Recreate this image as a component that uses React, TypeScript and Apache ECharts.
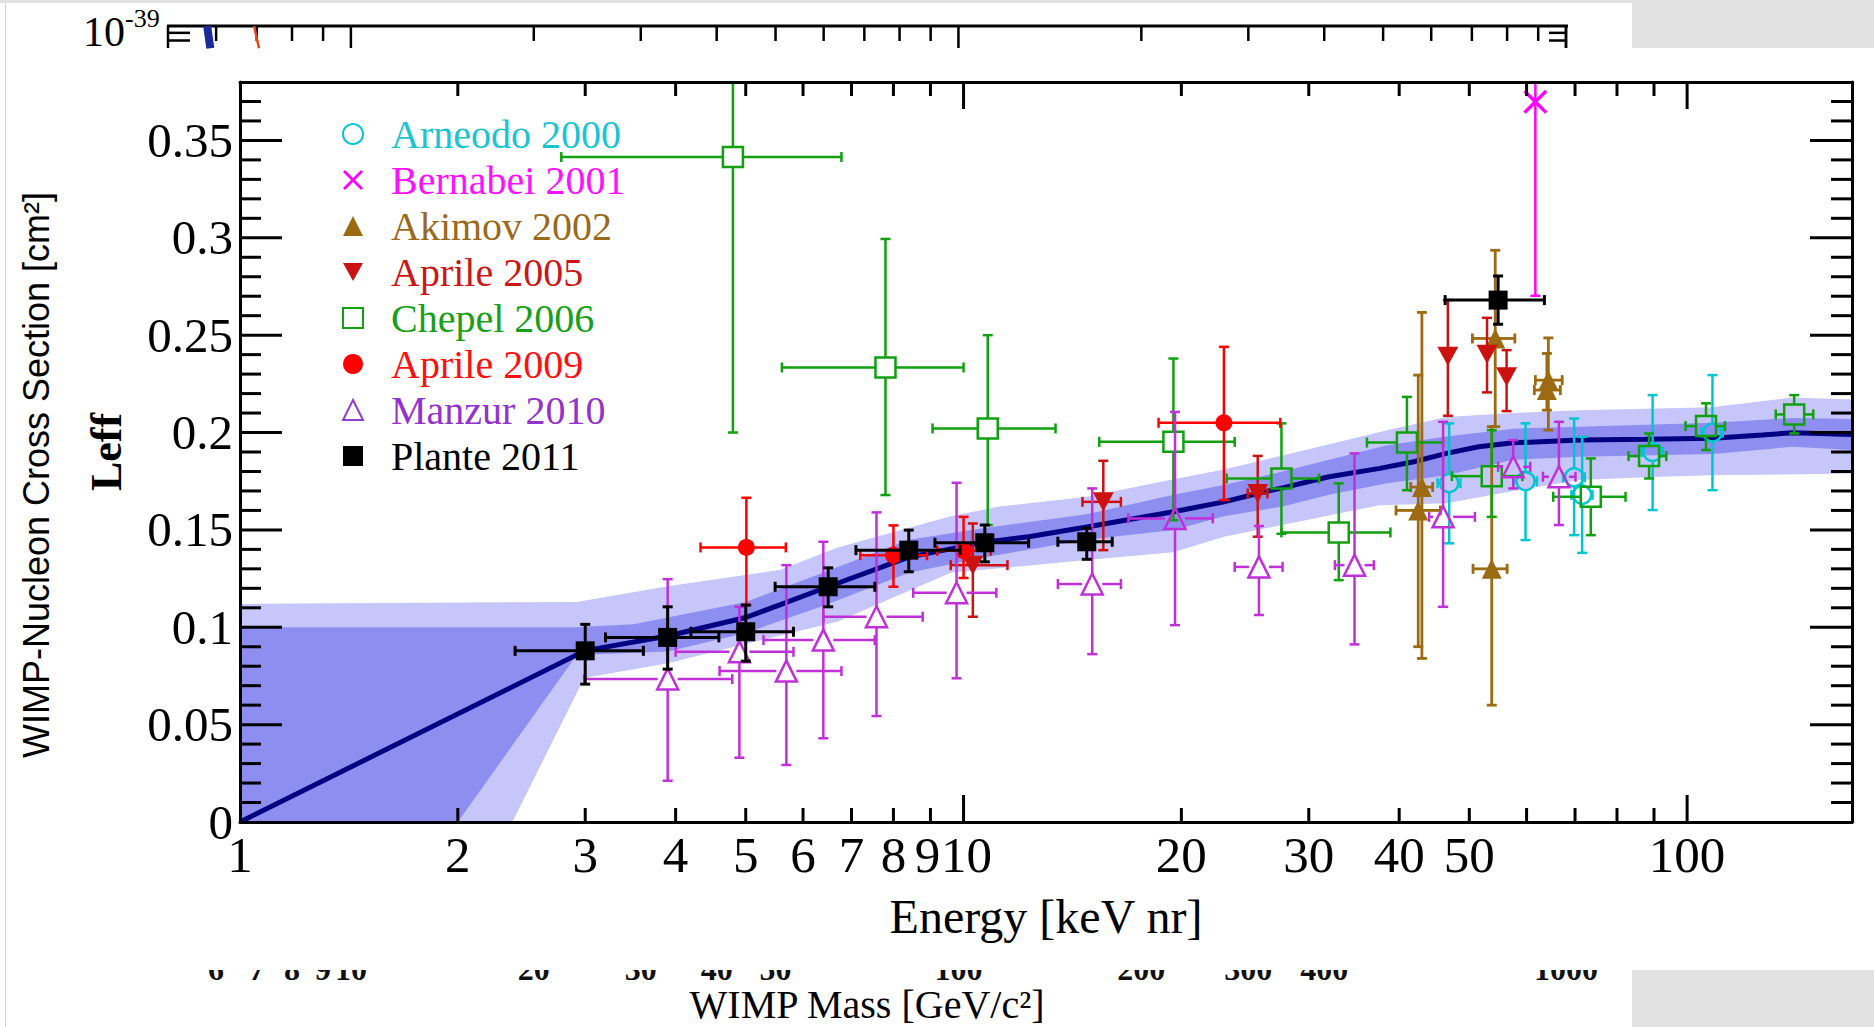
import { useEffect, useRef } from "react";
import * as echarts from "echarts";

const SERIF = "'Liberation Serif', 'DejaVu Serif', serif";
const SANS = "'Liberation Sans', 'DejaVu Sans', sans-serif";

// Leff panel range
const E_MIN = 1;
const E_MAX = 169;
const L_MIN = 0;
const L_MAX = 0.38;
// Cross-section panel range (underneath)
const M_MIN = 5;
const M_MAX = 1000;
const S_MIN = 1e-45;
const S_MAX = 1e-39;
// Vertical extent of the Leff sheet laid over the cross-section panel
const OVERLAY_TOP = 48;
const OVERLAY_BOTTOM = 970;

// Global fit and its 1 and 2 sigma bands: [energy keVnr, Leff]
const fitCurve = [
  [1, 0], [3, 0.088], [3.9, 0.0955], [5, 0.105], [6.5, 0.1208], [8.4, 0.136],
  [10.7, 0.1437], [12.3, 0.1465], [14.8, 0.1515], [19.5, 0.1593], [22.9, 0.1644],
  [25.5, 0.1687], [27.6, 0.1716], [32, 0.1773], [37.6, 0.1816], [41.9, 0.185],
  [46.5, 0.1893], [51.5, 0.1927], [57.5, 0.1947], [71, 0.1961], [87.6, 0.1965],
  [108.7, 0.197], [127, 0.1987], [140, 0.1999], [169, 0.199],
];
const innerBandUpper = [
  [1, 0.1], [2.9, 0.1], [3.5, 0.1015], [3.9, 0.105], [5, 0.113], [6.5, 0.129],
  [8.4, 0.145], [10.7, 0.151], [14.8, 0.158], [19.5, 0.168], [22.9, 0.173],
  [27.6, 0.18], [32, 0.186], [38.5, 0.1935], [46.5, 0.198], [57.5, 0.202],
  [71, 0.203], [108.7, 0.205], [140, 0.2074], [169, 0.207],
];
const innerBandLower = [
  [1, 0], [2.0, 0], [2.92, 0.0857], [3.9, 0.0875], [5, 0.097], [6.5, 0.112],
  [8.4, 0.128], [10.7, 0.136], [14.8, 0.145], [19.5, 0.15], [22.9, 0.157],
  [27.6, 0.162], [32, 0.168], [38.5, 0.174], [46.5, 0.178], [57.5, 0.186],
  [71, 0.1875], [108.7, 0.189], [140, 0.1927], [169, 0.191],
];
const outerBandUpper = [
  [1, 0.112], [2.92, 0.113], [3.9, 0.121], [5.57, 0.1294], [6.7, 0.141],
  [9.6, 0.157], [11.2, 0.162], [14.8, 0.167], [19.5, 0.176], [22.9, 0.181],
  [38.5, 0.2012], [46.5, 0.208], [57.5, 0.21], [71, 0.2114], [108, 0.213],
  [140, 0.218], [169, 0.217],
];
const outerBandLower = [
  [1, 0], [2.38, 0], [2.99, 0.074], [3.9, 0.0815], [6.7, 0.103], [9.6, 0.128],
  [14.8, 0.1345], [19.5, 0.1385], [22.9, 0.1465], [37.6, 0.1627], [46.5, 0.1637],
  [57.5, 0.17], [71, 0.1756], [87.6, 0.177], [108, 0.178], [169, 0.179],
];

// Measurements: [energy, Leff, energy low, energy high, Leff low, Leff high]
const arneodo2000 = [
  [46.9, 0.174, 45.2, 48.6, 0.1431, 0.2047],
  [59.8, 0.175, 57.6, 62.0, 0.1448, 0.2047],
  [69.8, 0.177, 67.4, 72.2, 0.1473, 0.2072],
  [71.6, 0.168, 69.2, 74.0, 0.1382, 0.1978],
  [89.6, 0.19, 86.6, 92.6, 0.1602, 0.2192],
  [108.4, 0.2, 104.8, 112.0, 0.1704, 0.2295],
];
const bernabei2001 = [[61.7, 0.3698, 61.7, 61.7, 0.2702, 0.47]];
const akimov2002 = [
  [43.0, 0.172, 41.5, 44.5, 0.084, 0.2617],
  [42.5, 0.16, 39.6, 45.6, 0.09, 0.2295],
  [54.3, 0.2483, 50.5, 57.8, 0.203, 0.2936],
  [53.7, 0.13, 50.6, 56.4, 0.06, 0.203],
  [64.3, 0.2269, 61.7, 67.2, 0.2012, 0.2486],
  [64.0, 0.2218, 61.5, 66.8, 0.2115, 0.2406],
];
const aprile2005 = [
  [10.3, 0.1319, 9.6, 11.5, 0.1054, 0.1533],
  [15.6, 0.1644, 14.6, 16.5, 0.1396, 0.1855],
  [25.5, 0.1687, 24.7, 26.3, 0.1465, 0.188],
  [46.7, 0.2392, 46.7, 46.7, 0.2086, 0.268],
  [52.9, 0.2402, 52.9, 52.9, 0.2206, 0.2589],
  [56.3, 0.2286, 56.3, 56.3, 0.211, 0.2423],
];
const chepel2006 = [
  [4.8, 0.3415, 2.78, 6.78, 0.2, 0.483],
  [7.8, 0.2334, 5.61, 10.0, 0.1679, 0.2994],
  [10.8, 0.2021, 9.06, 13.4, 0.1525, 0.25],
  [19.5, 0.1952, 15.4, 23.7, 0.155, 0.238],
  [27.5, 0.1764, 23.1, 31.0, 0.148, 0.2047],
  [33.0, 0.1487, 27.5, 38.9, 0.1242, 0.1739],
  [41.0, 0.1949, 36.1, 46.0, 0.1704, 0.2183],
  [53.7, 0.1776, 47.3, 59.2, 0.1567, 0.2012],
  [73.6, 0.167, 65.3, 82.2, 0.1473, 0.1867],
  [88.6, 0.1879, 83.0, 93.6, 0.1764, 0.1995],
  [106.2, 0.2033, 99.5, 112.8, 0.191, 0.215],
  [140.6, 0.2093, 132.6, 149.4, 0.1995, 0.2192],
];
const aprile2009 = [
  [5.01, 0.141, 4.33, 5.68, 0.1114, 0.1665],
  [8.0, 0.137, 7.2, 8.9, 0.1208, 0.1523],
  [10.0, 0.1393, 9.2, 10.9, 0.1253, 0.1567],
  [22.9, 0.205, 18.6, 27.4, 0.1653, 0.244],
];
const manzur2010 = [
  [3.9, 0.0734, 2.99, 4.79, 0.0212, 0.1247],
  [4.9, 0.0874, 4.0, 5.82, 0.033, 0.1105],
  [5.69, 0.0775, 4.6, 6.78, 0.0293, 0.1319],
  [6.4, 0.0934, 5.29, 7.54, 0.043, 0.1439],
  [7.58, 0.1054, 6.4, 8.78, 0.0544, 0.159],
  [9.78, 0.1177, 8.52, 11.1, 0.0738, 0.1742],
  [15.06, 0.1222, 13.5, 16.5, 0.0862, 0.1713],
  [19.6, 0.1559, 16.9, 22.1, 0.1011, 0.2106],
  [25.6, 0.131, 23.7, 27.6, 0.1063, 0.152],
  [34.7, 0.1319, 32.6, 36.9, 0.0912, 0.1893],
  [46.0, 0.1567, 44.0, 50.9, 0.1105, 0.2055],
  [57.5, 0.1824, 54.8, 60.7, 0.1713, 0.1961],
  [66.5, 0.1773, 63.2, 70.1, 0.1525, 0.2055],
];
const plante2011 = [
  [3.0, 0.0879, 2.4, 3.61, 0.0708, 0.1015],
  [3.9, 0.0948, 3.2, 4.59, 0.0785, 0.1105],
  [5.0, 0.0977, 4.2, 5.82, 0.0826, 0.1114],
  [6.5, 0.1208, 5.49, 7.54, 0.1105, 0.1305],
  [8.4, 0.1396, 7.1, 9.89, 0.1285, 0.1499],
  [10.7, 0.1434, 9.13, 12.3, 0.1336, 0.1525],
  [14.8, 0.1439, 13.5, 16.05, 0.1349, 0.1508],
  [54.8, 0.268, 46.3, 63.5, 0.2556, 0.2804],
];

// Axis decorations of the Leff panel
const energyTicks = [2, 3, 4, 5, 6, 7, 8, 9, 10, 20, 30, 40, 50, 60, 70, 80, 90, 100];
const energyMajorTicks = [10, 100];
const energyLabels = [1, 2, 3, 4, 5, 6, 7, 8, 9, 10, 20, 30, 40, 50, 100];
// "9" and "10" sit very close together; nudge them apart a little
const energyLabelNudge: Record<number, number> = { 9: -3, 10: 3 };
const leffTicks = Array.from({ length: 37 }, (_, i) => (i + 1) / 100);

// Axis decorations of the cross-section panel
const massTicks = [6, 7, 8, 9, 10, 20, 30, 40, 50, 60, 70, 80, 90, 100, 200, 300, 400, 500, 600, 700, 800, 900, 1000];
const massMajorTicks = [10, 100, 1000];
const massLabels = [6, 7, 8, 9, 10, 20, 30, 40, 50, 100, 200, 300, 400, 1000];
const crossSectionMinorTicks = [9e-40, 8e-40, 7e-40];
// Two exclusion curves, visible only as they leave the top edge
const limitCurveBlue = [[5.8, 1e-39], [5.87, 7.1e-40]];
const limitCurveRed = [[6.93, 1e-39], [7.06, 7.1e-40]];

const CROSS_SYMBOL = "path://M1,0L5,4L9,0L10,1L6,5L10,9L9,10L5,6L1,10L0,9L4,5L0,1Z";
const DOWN_TRIANGLE = "path://M0,0L10,0L5,9Z";

const datasets = [
  { name: "Arneodo 2000", data: arneodo2000, color: "#00c6d0", text: "#1cc4d0", icon: "#00c6d0", symbol: "circle", size: 18, hollow: true, gap: 9, bar: 2.5 },
  { name: "Bernabei 2001", data: bernabei2001, color: "#ff00ff", text: "#ff10ff", icon: "#ff00ff", symbol: CROSS_SYMBOL, size: 24, hollow: false, gap: 0, bar: 2.5 },
  { name: "Akimov 2002", data: akimov2002, color: "#9c6a10", text: "#9a6a1c", icon: "#9c6a10", symbol: "triangle", size: 20, hollow: false, gap: 0, bar: 2.8 },
  { name: "Aprile 2005", data: aprile2005, color: "#cc1111", text: "#c81818", icon: "#cc1111", symbol: DOWN_TRIANGLE, size: [21, 19], hollow: false, gap: 0, bar: 2.5 },
  { name: "Chepel 2006", data: chepel2006, color: "#10a010", text: "#18a018", icon: "#10a010", symbol: "rect", size: 20, hollow: true, gap: 10, bar: 2.5 },
  { name: "Aprile 2009", data: aprile2009, color: "#ff0000", text: "#ff1010", icon: "#ff0000", symbol: "circle", size: 17, hollow: false, gap: 0, bar: 2.5 },
  { name: "Manzur 2010", data: manzur2010, color: "#c030d8", text: "#9333cc", icon: "#9040cc", symbol: "triangle", size: 21, hollow: true, gap: 10, bar: 2.5 },
  { name: "Plante 2011", data: plante2011, color: "#000000", text: "#000000", icon: "#000000", symbol: "rect", size: 19, hollow: false, gap: 0, bar: 3 },
];

function line(x1: number, y1: number, x2: number, y2: number, stroke: string, lineWidth: number) {
  return { type: "line", shape: { x1, y1, x2, y2 }, style: { stroke, lineWidth } };
}

function bandSeries(name: string, upper: number[][], lower: number[][], fill: string) {
  return {
    type: "custom",
    name,
    xAxisIndex: 0,
    yAxisIndex: 0,
    z: 1,
    silent: true,
    data: upper,
    renderItem: (params: any, api: any) => {
      if (params.dataIndex !== 0) return null;
      const points = upper
        .map((p) => api.coord(p))
        .concat(lower.slice().reverse().map((p) => api.coord(p)));
      return { type: "polygon", shape: { points }, style: { fill } };
    },
  };
}

function errorBarSeries(ds: any, z: number) {
  return {
    type: "custom",
    name: ds.name + " errors",
    xAxisIndex: 0,
    yAxisIndex: 0,
    z,
    clip: true,
    silent: true,
    data: ds.data,
    renderItem: (_params: any, api: any) => {
      const x = api.value(0);
      const y = api.value(1);
      const c = api.coord([x, y]);
      const l = api.coord([api.value(2), y]);
      const r = api.coord([api.value(3), y]);
      const b = api.coord([x, api.value(4)]);
      const t = api.coord([x, api.value(5)]);
      const g = ds.gap;
      const cap = 5;
      const w = ds.bar;
      const col = ds.color;
      const children: any[] = [];
      if (c[0] - l[0] > g + 1) {
        children.push(line(l[0], c[1], c[0] - g, c[1], col, w));
        children.push(line(l[0], c[1] - cap, l[0], c[1] + cap, col, w));
      }
      if (r[0] - c[0] > g + 1) {
        children.push(line(c[0] + g, c[1], r[0], c[1], col, w));
        children.push(line(r[0], c[1] - cap, r[0], c[1] + cap, col, w));
      }
      if (b[1] - c[1] > g + 1) {
        children.push(line(c[0], c[1] + g, c[0], b[1], col, w));
        children.push(line(c[0] - cap, b[1], c[0] + cap, b[1], col, w));
      }
      if (c[1] - t[1] > g + 1) {
        children.push(line(c[0], t[1], c[0], c[1] - g, col, w));
        children.push(line(c[0] - cap, t[1], c[0] + cap, t[1], col, w));
      }
      return { type: "group", children };
    },
  };
}

function markerSeries(ds: any, z: number) {
  return {
    type: "scatter",
    name: ds.name,
    xAxisIndex: 0,
    yAxisIndex: 0,
    z,
    silent: true,
    symbol: ds.symbol,
    symbolSize: ds.size,
    data: ds.data.map((d: number[]) => [d[0], d[1]]),
    itemStyle: ds.hollow
      ? { color: "transparent", borderColor: ds.color, borderWidth: 2.5, opacity: 1 }
      : { color: ds.color, borderWidth: 0, opacity: 1 },
  };
}

function buildOption() {
  const series: any[] = [];
  series.push(bandSeries("2 sigma band", outerBandUpper, outerBandLower, "#c6c6fa"));
  series.push(bandSeries("1 sigma band", innerBandUpper, innerBandLower, "#8d8ef0"));
  series.push({
    type: "line",
    name: "Global fit",
    xAxisIndex: 0,
    yAxisIndex: 0,
    z: 2,
    silent: true,
    data: fitCurve,
    symbol: "none",
    lineStyle: { color: "#000080", width: 5 },
  });
  datasets.forEach((ds, k) => {
    series.push(errorBarSeries(ds, 3 + 2 * k));
    series.push(markerSeries(ds, 4 + 2 * k));
  });

  // Energy ticks (bottom and top edges)
  series.push({
    type: "custom",
    name: "energy ticks",
    xAxisIndex: 0,
    yAxisIndex: 0,
    z: 30,
    silent: true,
    data: energyTicks.map((v) => [v, L_MIN]),
    renderItem: (_p: any, api: any) => {
      const v = api.value(0);
      const b = api.coord([v, L_MIN]);
      const t = api.coord([v, L_MAX]);
      const len = energyMajorTicks.includes(v) ? 27 : 14;
      return {
        type: "group",
        children: [
          line(b[0], b[1], b[0], b[1] - len, "#000", 3),
          line(t[0], t[1], t[0], t[1] + len, "#000", 3),
        ],
      };
    },
  });
  // Energy tick labels
  series.push({
    type: "custom",
    name: "energy labels",
    xAxisIndex: 0,
    yAxisIndex: 0,
    z: 30,
    silent: true,
    data: energyLabels.map((v) => [v, L_MIN]),
    renderItem: (_p: any, api: any) => {
      const v = api.value(0);
      const b = api.coord([v, L_MIN]);
      return {
        type: "text",
        x: b[0] + (energyLabelNudge[v] || 0),
        y: b[1] + 33,
        style: {
          text: String(v),
          fontFamily: SERIF,
          fontSize: 51,
          fill: "#000",
          align: "center",
          verticalAlign: "middle",
        },
      };
    },
  });
  // Leff ticks (left and right edges)
  series.push({
    type: "custom",
    name: "leff ticks",
    xAxisIndex: 0,
    yAxisIndex: 0,
    z: 30,
    silent: true,
    data: leffTicks.map((v) => [E_MIN, v]),
    renderItem: (_p: any, api: any) => {
      const v = api.value(1);
      const l = api.coord([E_MIN, v]);
      const r = api.coord([E_MAX, v]);
      const major = Math.abs(v / 0.05 - Math.round(v / 0.05)) < 1e-6;
      const len = major ? 42 : 21;
      return {
        type: "group",
        children: [
          line(l[0], l[1], l[0] + len, l[1], "#000", 3),
          line(r[0], r[1], r[0] - len, r[1], "#000", 3),
        ],
      };
    },
  });

  // Cross-section panel: top frame, ticks and the 10^-39 label
  series.push({
    type: "custom",
    name: "mass frame",
    xAxisIndex: 2,
    yAxisIndex: 2,
    z: 0,
    silent: true,
    data: massTicks.map((v) => [v, S_MAX]),
    renderItem: (params: any, api: any) => {
      const v = api.value(0);
      const p = api.coord([v, S_MAX]);
      const len = massMajorTicks.includes(v) ? 26 : 15;
      const children: any[] = [line(p[0], p[1], p[0], Math.min(p[1] + len, OVERLAY_TOP), "#000", 2.5)];
      if (params.dataIndex === 0) {
        const tl = api.coord([M_MIN, S_MAX]);
        const tr = api.coord([M_MAX, S_MAX]);
        children.push(line(tl[0] - 1, tl[1], tr[0] + 2, tr[1], "#000", 3));
        children.push(line(tl[0], tl[1], tl[0], OVERLAY_TOP, "#000", 2.5));
        children.push(line(tr[0], tr[1], tr[0], OVERLAY_TOP, "#000", 2.5));
        crossSectionMinorTicks.forEach((s) => {
          const a = api.coord([M_MIN, s]);
          const b = api.coord([M_MAX, s]);
          if (a[1] < OVERLAY_TOP) {
            children.push(line(a[0], a[1], a[0] + 22, a[1], "#000", 2.5));
            children.push(line(b[0], b[1], b[0] - 17, b[1], "#000", 2.5));
          }
        });
        children.push({
          type: "text",
          x: tl[0] - 43,
          y: tl[1] + 6,
          style: { text: "10", fontFamily: SERIF, fontSize: 42, fill: "#000", align: "right", verticalAlign: "middle" },
        });
        children.push({
          type: "text",
          x: tl[0] - 43,
          y: tl[1] - 8,
          style: { text: "-39", fontFamily: SERIF, fontSize: 26, fill: "#000", align: "left", verticalAlign: "middle" },
        });
      }
      return { type: "group", children };
    },
  });
  // Cross-section panel: mass labels, only their lower edge shows below the Leff sheet
  series.push({
    type: "custom",
    name: "mass labels",
    xAxisIndex: 2,
    yAxisIndex: 2,
    z: 0,
    silent: true,
    data: massLabels.map((v) => [v, S_MIN]),
    renderItem: (_p: any, api: any) => {
      const v = api.value(0);
      const p = api.coord([v, S_MIN]);
      return {
        type: "group",
        children: [
          {
            type: "text",
            x: p[0],
            y: OVERLAY_BOTTOM + 15,
            style: { text: String(v), fontFamily: SERIF, fontWeight: "bold", fontSize: 32, fill: "#111", align: "center", verticalAlign: "bottom" },
          },
          { type: "rect", shape: { x: p[0] - 45, y: OVERLAY_BOTTOM - 36, width: 90, height: 36 }, style: { fill: "#fff" } },
        ],
      };
    },
  });
  // Cross-section panel: mass axis title, centred under the panel
  series.push({
    type: "custom",
    name: "mass title",
    xAxisIndex: 2,
    yAxisIndex: 2,
    z: 0,
    silent: true,
    data: [[Math.sqrt(M_MIN * M_MAX), S_MIN]],
    renderItem: (_p: any, api: any) => {
      const p = api.coord([api.value(0), api.value(1)]);
      return {
        type: "text",
        x: p[0],
        y: p[1] + 80,
        style: { text: "WIMP Mass [GeV/c²]", fontFamily: SERIF, fontSize: 40, fill: "#000", align: "center", verticalAlign: "middle" },
      };
    },
  });
  series.push({
    type: "line",
    name: "limit A",
    xAxisIndex: 2,
    yAxisIndex: 2,
    z: 0,
    silent: true,
    symbol: "none",
    data: limitCurveBlue,
    lineStyle: { color: "#1a2a9a", width: 8 },
  });
  series.push({
    type: "line",
    name: "limit B",
    xAxisIndex: 2,
    yAxisIndex: 2,
    z: 0,
    silent: true,
    symbol: "none",
    data: limitCurveRed,
    lineStyle: { color: "#e0481a", width: 2.5 },
  });

  const frameLine = { show: true, onZero: false, lineStyle: { color: "#000", width: 3 } };
  const hidden = { axisTick: { show: false }, axisLabel: { show: false }, splitLine: { show: false } };

  return {
    animation: false,
    backgroundColor: "#fff",
    grid: [
      { left: 240, top: 82, width: 1612, height: 740, show: false },
      { left: 168, top: 26, width: 1398, height: 898, show: false },
    ],
    legend: {
      orient: "vertical",
      left: 337,
      top: 109,
      itemWidth: 20,
      itemHeight: 20,
      itemGap: 6,
      selectedMode: false,
      textStyle: { fontFamily: SERIF, fontSize: 40, lineHeight: 40, padding: [0, 0, 0, 23] },
      data: datasets.map((ds) => ({
        name: ds.name,
        textStyle: { color: ds.text },
        itemStyle: ds.hollow ? { borderColor: ds.icon } : { color: ds.icon },
      })),
    },
    xAxis: [
      {
        type: "log", gridIndex: 0, logBase: 10, min: E_MIN, max: E_MAX, position: "bottom", z: 25,
        axisLine: frameLine, ...hidden,
        name: "Energy [keV nr]", nameLocation: "middle", nameGap: 70,
        nameTextStyle: { fontFamily: SERIF, fontSize: 48, color: "#000" },
      },
      { type: "log", gridIndex: 0, logBase: 10, min: E_MIN, max: E_MAX, position: "top", z: 25, axisLine: frameLine, ...hidden },
      {
        type: "log", gridIndex: 1, logBase: 10, min: M_MIN, max: M_MAX, position: "bottom", z: 0,
        axisLine: { show: false }, ...hidden,
      },
    ],
    yAxis: [
      {
        type: "value", gridIndex: 0, min: L_MIN, max: L_MAX, interval: 0.05, position: "left", z: 25,
        axisLine: frameLine, axisTick: { show: false }, splitLine: { show: false },
        axisLabel: { fontFamily: SERIF, fontSize: 49, color: "#000", margin: 7, showMaxLabel: false },
        name: "Leff", nameLocation: "middle", nameGap: 112,
        nameTextStyle: { fontFamily: SERIF, fontSize: 44, fontWeight: "bold", color: "#000" },
      },
      {
        type: "value", gridIndex: 0, min: L_MIN, max: L_MAX, interval: 0.05, position: "right", z: 25,
        axisLine: frameLine, ...hidden,
      },
      {
        type: "log", gridIndex: 1, logBase: 10, min: S_MIN, max: S_MAX, position: "left", z: 0,
        axisLine: { show: false }, ...hidden,
        name: "WIMP-Nucleon Cross Section [cm²]", nameLocation: "middle", nameGap: 114,
        nameTextStyle: { fontFamily: SANS, fontSize: 36, color: "#000" },
      },
    ],
    graphic: [
      { type: "rect", z: -1, shape: { x: 0, y: 0, width: 1874, height: 3 }, style: { fill: "#e2e2e2" } },
      { type: "rect", z: -1, shape: { x: 1632, y: 0, width: 242, height: OVERLAY_TOP }, style: { fill: "#e2e2e2" } },
      { type: "rect", z: -1, shape: { x: 1632, y: OVERLAY_BOTTOM, width: 242, height: 1027 - OVERLAY_BOTTOM }, style: { fill: "#e2e2e2" } },
      { type: "line", z: -1, shape: { x1: 5.5, y1: 3, x2: 5.5, y2: 1027 }, style: { stroke: "#d4d4d4", lineWidth: 1 } },
    ],
    series,
  };
}

export default function App() {
  const ref = useRef<HTMLDivElement>(null);
  useEffect(() => {
    document.body.style.margin = "0";
    const chart = echarts.init(ref.current as HTMLDivElement, null, { renderer: "svg" });
    chart.setOption(buildOption() as any);
    return () => chart.dispose();
  }, []);
  return <div ref={ref} style={{ width: 1874, height: 1027 }} />;
}
